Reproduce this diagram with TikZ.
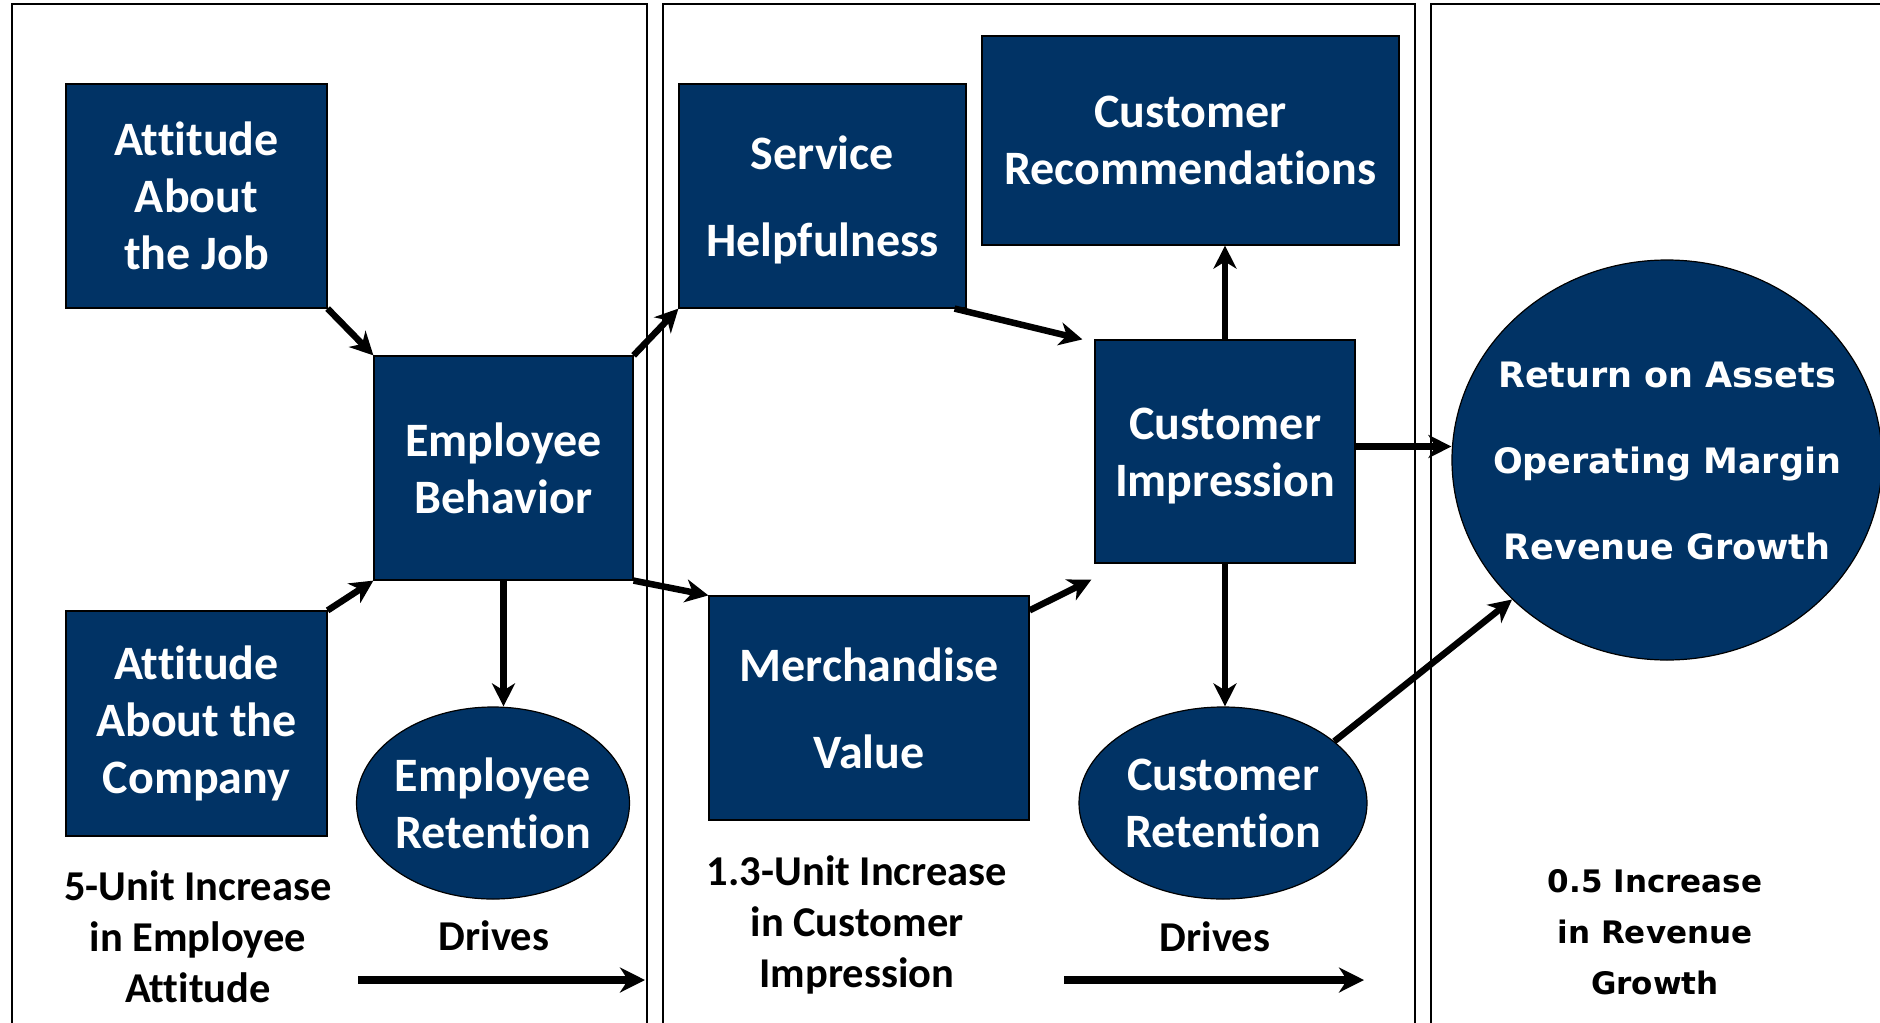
\documentclass[tikz,border=0pt]{standalone}
\usepackage{fontspec}
\setmainfont{Carlito}[Ligatures={NoCommon}]
\newfontfamily\vfont{DejaVu Sans}
\usetikzlibrary{shapes.geometric,arrows.meta,calc}
\definecolor{navy}{RGB}{1,51,101}
\begin{document}
\begin{tikzpicture}[x=1pt,y=-1pt,
  panel/.style={draw=black, line width=1.3pt},
  box/.style={draw=black, line width=1.2pt, fill=navy, text=white, align=center, inner sep=0pt,
    font=\bfseries\fontsize{48}{57}\selectfont},
  widebox/.style={box, font=\bfseries\fontsize{48}{87}\selectfont},
  intext/.style={text=white, align=center, inner sep=0pt, font=\bfseries\fontsize{48}{57}\selectfont},
  oval/.style={ellipse, draw=black, line width=1.2pt, fill=navy, inner sep=0pt},
  bigtext/.style={intext, font=\vfont\bfseries\fontsize{35}{86}\selectfont},
  note/.style={align=center, inner sep=0pt, font=\bfseries\fontsize{42.5}{51}\selectfont},
  vnote/.style={align=center, inner sep=0pt, font=\vfont\bfseries\fontsize{31}{51}\selectfont},
  conn/.style={line width=6.5pt, -{Stealth[length=23pt,width=23pt,inset=7pt]}},
  drive/.style={line width=8pt, -{Stealth[length=25pt,width=25pt,inset=8pt]}}
]
\useasboundingbox (0,0) rectangle (1880,1023);
\clip (0,0) rectangle (1880,1023);
\fill[white] (0,0) rectangle (1880,1023);

% panels
\draw[panel] (12,4) rectangle (647,1060);
\draw[panel] (663,4) rectangle (1415,1060);
\draw[panel] (1431,4) rectangle (1950,1060);

% boxes
\node[box, minimum width=261pt, minimum height=224pt] (AJ) at (196.5,196) {Attitude\\About\\the Job};
\node[box, minimum width=261pt, minimum height=225pt] (AC) at (196.5,723.5) {Attitude\\About the\\Company};
\node[box, minimum width=259pt, minimum height=224pt] (EB) at (503.5,468) {Employee\\Behavior};
\node[oval, minimum width=273pt, minimum height=192pt] (ER) at (493,803) {};
\node[intext] (ERt) at (ER.center) {Employee\\Retention};
\node[widebox, minimum width=287pt, minimum height=224pt] (SH) at (822.5,196) {};
\node[intext, font=\bfseries\fontsize{48}{87}\selectfont] (SHt) at ($(SH.center)+(0,4)$) {Service\\Helpfulness};
\node[box, minimum width=417pt, minimum height=209pt] (CR) at (1190.5,140.5) {Customer\\Recommendations};
\node[box, minimum width=260pt, minimum height=223pt] (CI) at (1225,451.5) {};
\node[intext] (CIt) at ($(CI.center)+(0,5)$) {Customer\\Impression};
\node[widebox, minimum width=320pt, minimum height=224pt] (MV) at (869,708) {Merchandise\\Value};
\node[oval, minimum width=288pt, minimum height=192pt] (CT) at (1223,803) {};
\node[intext] (CTt) at (CT.center) {Customer\\Retention};
\node[oval, minimum width=430pt, minimum height=400pt] (BE) at (1667,460) {};
\node[bigtext] (BEt) at ($(BE.center)+(0,1)$) {Return on Assets\\Operating Margin\\Revenue Growth};

% notes
\node[note] (N1) at (198,937) {5-Unit Increase\\in Employee\\Attitude};
\node[note] (D1) at (494,936) {Drives};
\node[note] (N2) at (857,924.5) {1.3-Unit Increase\\in Customer\\Impression};
\node[note] (D2) at (1215,937) {Drives};
\node[vnote] (N3) at (1655,932) {0.5 Increase\\in Revenue\\Growth};

% connectors
\draw[conn] (AJ.south east) -- (EB.north west);
\draw[conn] (AC.north east) -- (EB.south west);
\draw[conn] (EB.north east) -- (SH.south west);
\draw[conn] (EB.south east) -- (MV.north west);
\draw[conn] (EB.south) -- (EB.south |- ER.north);
\draw[conn] ($(SH.south east)+(-12,0)$) -- ($(CI.north west)+(-12,0)$);
\draw[conn] ($(MV.north east)+(0,15)$) -- ($(CI.south west)+(-3,16)$);
\draw[conn] (CI.north) -- (CI.north |- CR.south);
\draw[conn] ($(CI.east)+(0,-5)$) -- ($(CI.east -| BE.west)+(0,-5)$);
\draw[conn] (CI.south) -- (CI.south |- CT.north);
\draw[conn] (CT.29) -- (BE.222);

\coordinate (d1s) at (358,980);
\coordinate (d1e) at (645,980);
\coordinate (d2s) at (1064,980);
\coordinate (d2e) at (1364,980);
\draw[drive] (d1s) -- (d1e);
\draw[drive] (d2s) -- (d2e);
\end{tikzpicture}
\end{document}
